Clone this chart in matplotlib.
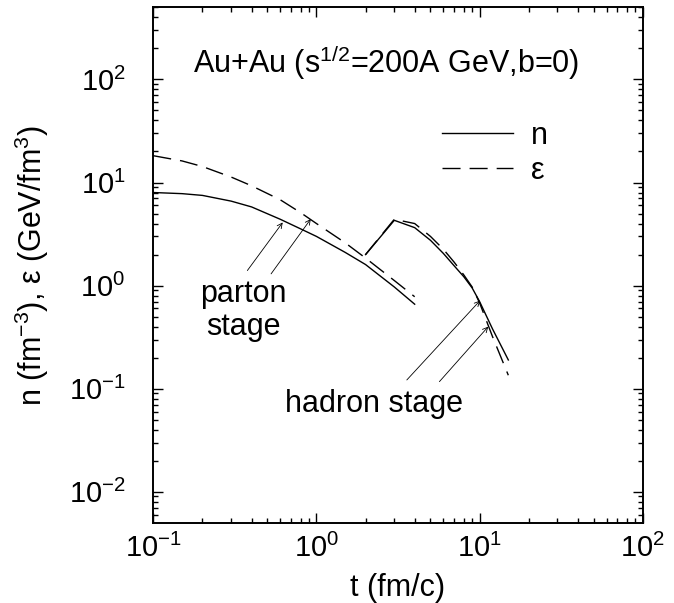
import matplotlib
matplotlib.use('Agg')
import matplotlib.pyplot as plt

plt.rcParams['font.family'] = ['Liberation Sans', 'DejaVu Sans']
plt.rcParams['mathtext.fontset'] = 'custom'
plt.rcParams['mathtext.rm'] = 'Liberation Sans'
plt.rcParams['mathtext.it'] = 'Liberation Sans:italic'
plt.rcParams['mathtext.bf'] = 'Liberation Sans:bold'
plt.rcParams['lines.scale_dashes'] = False

# parton stage (t in fm/c)
t_parton = [0.1, 0.15, 0.2, 0.3, 0.4, 0.6, 0.8, 1.0, 1.5, 2.0, 3.0, 4.0]
n_parton = [8.0, 7.8, 7.5, 6.6, 5.8, 4.4, 3.55, 3.0, 2.1, 1.6, 0.97, 0.66]
e_parton = [18.2, 16.2, 14.3, 11.3, 9.3, 6.8, 5.1, 4.0, 2.6, 1.85, 1.12, 0.78]

# hadron stage
t_hadron = [2.0, 3.0, 4.0, 5.0, 6.0, 7.0, 8.0, 9.0, 10.0, 12.0, 15.0]
n_hadron = [2.0, 4.3, 3.65, 2.75, 2.05, 1.55, 1.22, 0.95, 0.70, 0.38, 0.19]
e_hadron = [2.0, 4.4, 4.0, 3.0, 2.25, 1.68, 1.27, 0.97, 0.68, 0.32, 0.135]

# arrows: (tail, head) in data coords
parton_arrows = [((0.377, 1.40), (0.621, 4.1)), ((0.527, 1.30), (0.923, 4.43))]
hadron_arrows = [((3.58, 0.1215), (10.07, 0.716)), ((5.67, 0.117), (11.3, 0.40))]

dash = (13, 6.5)
fs = 22      # text
fs_tick = 21

fig = plt.figure(figsize=(6.74, 6.03), dpi=100)
ax = fig.add_axes([0.2275, 0.1332, 0.7261, 0.8547])

ax.plot(t_parton, n_parton, color='k', lw=1.0, label='n')
ax.plot(t_parton, e_parton, color='k', lw=1.0, ls='--', dashes=dash, label='ε')
ax.plot(t_hadron, n_hadron, color='k', lw=1.0)
ax.plot(t_hadron, e_hadron, color='k', lw=1.0, ls='--', dashes=dash)

for tail, head in parton_arrows + hadron_arrows:
    ax.annotate('', xy=head, xytext=tail,
                arrowprops=dict(arrowstyle='->', lw=0.6, color='k',
                                shrinkA=0, shrinkB=0, mutation_scale=9))

ax.set_xscale('log')
ax.set_yscale('log')
ax.set_xlim(0.1, 100)
ax.set_ylim(10 ** -2.3, 10 ** 2.7)

ax.text(2.66, 116, 'Au+Au (s$^{\\mathregular{1/2}}$=200A GeV,b=0)', fontsize=fs,
        ha='center', va='baseline')
ax.text(0.356, 0.70, 'parton', fontsize=fs, ha='center', va='baseline')
ax.text(0.356, 0.333, 'stage', fontsize=fs, ha='center', va='baseline')
ax.text(2.25, 0.0598, 'hadron stage', fontsize=fs, ha='center', va='baseline')

ax.legend(loc='upper left', bbox_to_anchor=(0.589, 0.780), frameon=False,
          fontsize=fs, handlelength=2.34, handletextpad=0.6, labelspacing=0.18,
          borderpad=0, borderaxespad=0)

ax.set_xlabel('t (fm/c)', fontsize=fs, labelpad=7)
ax.set_ylabel('n (fm$^{\\mathregular{-3}}$), ε (GeV/fm$^{\\mathregular{3}}$)', fontsize=fs, labelpad=13)

ax.tick_params(which='both', direction='in', top=True, right=True, labelsize=fs_tick)
ax.tick_params(which='major', length=7.2, width=1.0)
ax.tick_params(which='minor', length=3.6, width=1.0)
ax.tick_params(axis='x', which='major', pad=8)
ax.tick_params(axis='y', which='major', pad=20)
for sp in ax.spines.values():
    sp.set_linewidth(1.4)

fig.savefig('out.png', dpi=100)
